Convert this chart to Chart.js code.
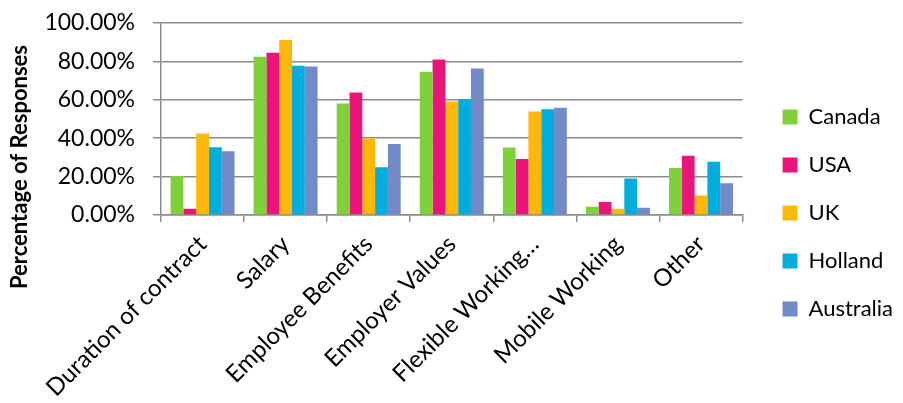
<!DOCTYPE html>
<html>
<head>
<meta charset="utf-8">
<script src="https://cdn.jsdelivr.net/npm/chart.js@4/dist/chart.umd.min.js"></script>
<style>
  body { margin: 0; background: #fff; }
  #wrap { width: 903px; height: 403px; }
</style>
</head>
<body>
<div id="wrap"><canvas id="byCountry" width="903" height="403"></canvas></div>
<script>
// survey answers, % of responses per country
const categories = ['Duration of contract', 'Salary', 'Employee Benefits', 'Employer Values',
                    'Flexible Working\u2026', 'Mobile Working', 'Other'];
const canada    = [20.3, 82.4, 58.1, 74.6, 35.1, 4.3, 24.5];
const usa       = [3.3, 84.5, 63.8, 81.0, 29.2, 6.8, 30.8];
const uk        = [42.4, 91.1, 40.0, 59.1, 53.9, 3.3, 10.1];
const holland   = [35.3, 77.7, 24.9, 60.3, 55.1, 19.0, 27.7];
const australia = [33.2, 77.4, 37.0, 76.3, 55.8, 3.8, 16.5];
const yTicks = [0, 20, 40, 60, 80, 100];

const gridColor = '#8c8c8c';

Chart.defaults.font.family = 'Lato';
Chart.defaults.font.size = 22;
Chart.defaults.color = '#000';

// axis title is drawn by hand so it can sit lower than the plot centre
const yTitle = {
    id: 'yTitle',
    afterDraw(chart) {
        let ctx = chart.ctx;
        ctx.save();
        ctx.translate(20, 167);
        ctx.rotate(-Math.PI / 2);
        ctx.font = 'bold 22px Lato';
        ctx.fillStyle = '#000';
        ctx.textAlign = 'center';
        ctx.textBaseline = 'middle';
        ctx.fillText('Percentage of Responses', 0, 0);
        ctx.restore();
    }
};

function makeSet(label, data, color) {
    return {
        label: label,
        data: data,
        backgroundColor: color,
        borderWidth: 0,
        barPercentage: 1,
        categoryPercentage: 0.77
    };
}

let ctx = document.getElementById('byCountry').getContext('2d');
let myChart = new Chart(ctx, {
    type: 'bar',
    data: {
        labels: categories,
        datasets: [
            makeSet('Canada', canada, '#7fd13b'),
            makeSet('USA', usa, '#ea157a'),
            makeSet('UK', uk, '#feb80a'),
            makeSet('Holland', holland, '#00addc'),
            makeSet('Australia', australia, '#738ac8')
        ]
    },
    options: {
        responsive: false,
        animation: false,
        layout: { padding: { top: 23, left: 0, right: 0, bottom: 0 } },
        plugins: {
            tooltip: { enabled: false },
            legend: {
                position: 'right',
                labels: {
                    boxWidth: 15,
                    boxHeight: 15,
                    padding: 26,
                    font: { size: 22 }
                }
            }
        },
        scales: {
            x: {
                grid: {
                    offset: true,
                    drawOnChartArea: false,
                    color: gridColor,
                    lineWidth: 1.5,
                    tickLength: 7
                },
                border: { color: gridColor, width: 1.5 },
                ticks: {
                    autoSkip: false,
                    minRotation: 45,
                    maxRotation: 45,
                    padding: 8,
                    font: { size: 24 }
                },
                afterFit: function(scale) { scale.height = 188; }
            },
            y: {
                min: 0,
                max: 100,
                afterBuildTicks: function(scale) {
                    scale.ticks = yTicks.map(v => ({ value: v }));
                },
                grid: {
                    color: gridColor,
                    lineWidth: 1.5,
                    tickLength: 8
                },
                border: { color: gridColor, width: 1.5 },
                ticks: {
                    padding: 18,
                    font: { size: 23 },
                    callback: v => v.toFixed(2) + '%'
                },
                afterFit: function(scale) {
                    scale.width = 161;
                    // tick padding would otherwise push the top of the plot down
                    scale.paddingTop = 0;
                    scale.paddingBottom = 0;
                }
            },
            // empty axis, only keeps a gap between the plot and the legend
            yR: {
                position: 'right',
                grid: { display: false },
                border: { display: false },
                ticks: { display: false },
                afterFit: function(scale) { scale.width = 14; }
            }
        }
    },
    plugins: [yTitle]
});
</script>
</body>
</html>
